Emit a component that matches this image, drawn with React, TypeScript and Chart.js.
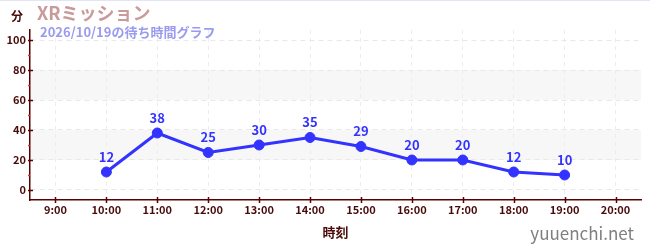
import React, { useEffect, useRef } from "react";
import { Chart, registerables } from "chart.js";

Chart.register(...registerables);

const hours = ["9:00", "10:00", "11:00", "12:00", "13:00", "14:00", "15:00", "16:00", "17:00", "18:00", "19:00", "20:00"];
const waitTimes: (number | null)[] = [null, 12, 38, 25, 30, 35, 29, 20, 20, 12, 10, null];
const yTickValues = [0, 10, 20, 30, 40, 50, 60, 70, 80, 90, 100];
const bandRanges: [number, number][] = [[20, 40], [60, 80]];

const titleText = "XRミッション";
const subtitleText = "2026/10/19の待ち時間グラフ";
const yTitle = "分";
const xTitle = "時刻";
const watermark = "yuuenchi.net";

const FONT = '"Noto Sans CJK JP", "Noto Sans", sans-serif';
const AXIS_COLOR = "#5a0000";
const LABEL_COLOR = "#4a0a0a";
const LINE_COLOR = "#3333ff";

const decorPlugin = {
  id: "decor",
  beforeDraw(chart: any) {
    const { ctx, chartArea, scales } = chart;
    const y = scales.y;
    ctx.save();
    ctx.fillStyle = "#f7f7f7";
    for (const [a, b] of bandRanges) {
      const top = y.getPixelForValue(b);
      const bot = y.getPixelForValue(a);
      ctx.fillRect(chartArea.left, top, chartArea.right - chartArea.left, bot - top);
    }
    ctx.restore();
  },
  afterDraw(chart: any) {
    const { ctx, chartArea, scales, width } = chart;
    const x = scales.x;
    const y = scales.y;
    ctx.save();
    ctx.fillStyle = "#e4e4f8";
    ctx.fillRect(0, 0, width, 1);
    for (const v of yTickValues) {
      const py = Math.round(y.getPixelForValue(v)) + 0.5;
      ctx.beginPath();
      if (v % 20 === 0) {
        ctx.strokeStyle = AXIS_COLOR;
        ctx.lineWidth = 1.5;
        ctx.moveTo(chartArea.left - 2, py);
        ctx.lineTo(chartArea.left + 3, py);
      } else {
        ctx.strokeStyle = "#e03030";
        ctx.lineWidth = 1.5;
        ctx.moveTo(chartArea.left - 2, py);
        ctx.lineTo(chartArea.left, py);
      }
      ctx.stroke();
    }
    for (let i = 0; i < hours.length; i++) {
      const px = Math.round(x.getPixelForValue(i)) + 0.5;
      ctx.beginPath();
      ctx.strokeStyle = AXIS_COLOR;
      ctx.lineWidth = 1.5;
      ctx.moveTo(px, chartArea.bottom - 3);
      ctx.lineTo(px, chartArea.bottom + 3);
      ctx.stroke();
    }
    const meta = chart.getDatasetMeta(0);
    ctx.fillStyle = LINE_COLOR;
    ctx.font = `bold 13px ${FONT}`;
    ctx.textAlign = "center";
    ctx.textBaseline = "alphabetic";
    meta.data.forEach((pt: any, i: number) => {
      const v = waitTimes[i];
      if (v === null || v === undefined) return;
      ctx.fillText(String(v), pt.x, pt.y - 10);
    });
    ctx.textAlign = "left";
    ctx.textBaseline = "middle";
    ctx.fillStyle = "#c99a9a";
    ctx.font = `bold 18px ${FONT}`;
    ctx.fillText(titleText, 37, 13);
    ctx.fillStyle = "#9a9af0";
    ctx.font = `bold 13px ${FONT}`;
    ctx.fillText(subtitleText, 40, 32);
    ctx.fillStyle = LABEL_COLOR;
    ctx.font = `bold 12px ${FONT}`;
    ctx.fillText(yTitle, 11, 16);
    ctx.textAlign = "center";
    ctx.font = `bold 13px ${FONT}`;
    ctx.fillText(xTitle, (chartArea.left + chartArea.right) / 2, 232);
    ctx.textAlign = "right";
    ctx.fillStyle = "#7f7f7f";
    ctx.font = `17px ${FONT}`;
    ctx.fillText(watermark, 634, 234);
    ctx.restore();
  },
};

export default function App() {
  const ref = useRef<HTMLCanvasElement | null>(null);
  useEffect(() => {
    document.body.style.margin = "0";
    if (!ref.current) return;
    const chart = new Chart(ref.current, {
      type: "line",
      data: {
        labels: hours,
        datasets: [
          {
            data: waitTimes,
            borderColor: LINE_COLOR,
            backgroundColor: LINE_COLOR,
            borderWidth: 3,
            pointRadius: 5,
            pointBorderWidth: 1,
            pointBackgroundColor: LINE_COLOR,
            pointBorderColor: LINE_COLOR,
            tension: 0,
            spanGaps: false,
          },
        ],
      },
      options: {
        animation: false,
        responsive: false,
        maintainAspectRatio: false,
        layout: { padding: { top: 30, right: 9, left: 0, bottom: 0 } },
        plugins: { legend: { display: false }, tooltip: { enabled: false }, title: { display: false } },
        scales: {
          x: {
            offset: true,
            afterFit: (s: any) => {
              s.height = 50;
            },
            grid: {
              color: "#ededed",
              lineWidth: 1,
              drawTicks: false,
            },
            border: { color: AXIS_COLOR, width: 1.5, dash: [4, 4] },
            ticks: {
              color: LABEL_COLOR,
              font: { family: FONT, size: 11, weight: "bold" },
              padding: 3,
              maxRotation: 0,
              autoSkip: false,
            },
          },
          y: {
            min: -6.67,
            max: 106.67,
            afterFit: (s: any) => {
              s.width = 30;
            },
            afterBuildTicks: (s: any) => {
              s.ticks = yTickValues.filter((v) => v % 20 === 0).map((v) => ({ value: v }));
            },
            grid: {
              color: "#e8e8e8",
              lineWidth: 1,
              drawTicks: false,
            },
            border: { color: AXIS_COLOR, width: 1.5, dash: [5, 4] },
            ticks: {
              color: LABEL_COLOR,
              font: { family: FONT, size: 11, weight: "bold" },
              padding: 4,
            },
          },
        },
      },
      plugins: [decorPlugin],
    });
    return () => chart.destroy();
  }, []);
  return <canvas ref={ref} width={650} height={250} style={{ display: "block" }} />;
}
